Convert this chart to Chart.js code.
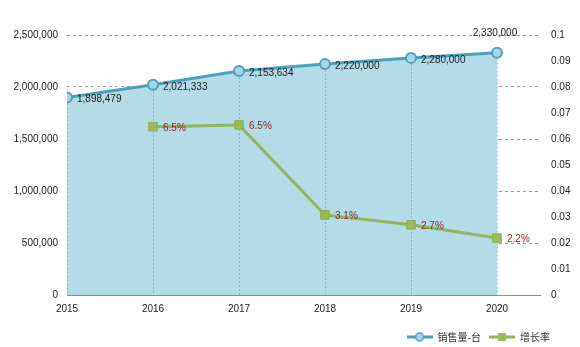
<!DOCTYPE html>
<html>
<head>
<meta charset="utf-8">
<script src="https://cdn.jsdelivr.net/npm/chart.js@4"></script>
<style>
  html, body { margin: 0; padding: 0; background: #fff; }
  #wrap { width: 580px; height: 347px; }
</style>
</head>
<body>
<div id="wrap"><canvas id="salesChart"></canvas></div>
<script>
// values
const years = [2015, 2016, 2017, 2018, 2019, 2020];
const sales = [1898479, 2021333, 2153634, 2220000, 2280000, 2330000];
const growthYears = [2016, 2017, 2018, 2019, 2020];
const growth = [0.0647, 0.0654, 0.0308, 0.0270, 0.0219];
const growthLabels = ['6.5%', '6.5%', '3.1%', '2.7%', '2.2%'];
const seriesNames = ['销售量-台', '增长率'];

const numFont = '"Liberation Sans", Arial, sans-serif';
const cjkFont = '"Noto Sans CJK SC", "Liberation Sans", sans-serif';

// little line + marker pictures for the legend
function legendMarker(lineColor, fillColor, edgeColor, shape) {
    const c = document.createElement('canvas');
    c.width = 26;
    c.height = 12;
    const g = c.getContext('2d');
    g.strokeStyle = lineColor;
    g.lineWidth = 3;
    g.beginPath();
    g.moveTo(0, 6);
    g.lineTo(26, 6);
    g.stroke();
    g.fillStyle = fillColor;
    g.strokeStyle = edgeColor;
    g.lineWidth = 1.5;
    if (shape === 'circle') {
        g.beginPath();
        g.arc(13, 6, 4, 0, Math.PI * 2);
        g.fill();
        g.stroke();
    } else {
        g.fillRect(9, 2, 8, 8);
    }
    return c;
}

const blueMarker = legendMarker('#4aa0bf', '#a9d6e5', '#4aa0bf', 'circle');
const greenMarker = legendMarker('#8eb65b', '#9bbb59', '#8aac4f', 'rect');

// dashed drop lines from the sales points down to the axis
const dropLines = {
    id: 'dropLines',
    afterDatasetDraw(chart, args) {
        if (args.index !== 0) return;
        const ctx = chart.ctx;
        const bottom = chart.chartArea.bottom;
        ctx.save();
        ctx.strokeStyle = 'rgba(70,150,185,0.55)';
        ctx.lineWidth = 1;
        ctx.setLineDash([2, 2]);
        args.meta.data.forEach(pt => {
            ctx.beginPath();
            ctx.moveTo(Math.round(pt.x) + 0.5, pt.y + 6);
            ctx.lineTo(Math.round(pt.x) + 0.5, bottom);
            ctx.stroke();
        });
        ctx.restore();
    }
};

// value labels next to the points
const pointLabels = {
    id: 'pointLabels',
    afterDatasetsDraw(chart) {
        const ctx = chart.ctx;
        ctx.save();
        ctx.font = '10px ' + numFont;
        ctx.textBaseline = 'middle';

        const salesMeta = chart.getDatasetMeta(0);
        ctx.fillStyle = '#1a1a1a';
        salesMeta.data.forEach((pt, i) => {
            const txt = sales[i].toLocaleString('en-US');
            if (i === sales.length - 1) {
                ctx.textAlign = 'center';
                ctx.fillText(txt, pt.x - 2, pt.y - 19);
            } else {
                ctx.textAlign = 'left';
                ctx.fillText(txt, pt.x + 10, pt.y + 2);
            }
        });

        const growthMeta = chart.getDatasetMeta(1);
        ctx.fillStyle = '#8b2323';
        ctx.textAlign = 'left';
        growthMeta.data.forEach((pt, i) => {
            ctx.fillText(growthLabels[i], pt.x + 10, pt.y + 1);
        });
        ctx.restore();
    }
};

// pull the legend in a little from the right edge
const legendShift = {
    id: 'legendShift',
    afterLayout(chart) {
        if (chart.legend) chart.legend.right = chart.chartArea.right + 18;
    }
};

const ctx = document.getElementById('salesChart').getContext('2d');
new Chart(ctx, {
    type: 'line',
    data: {
        datasets: [
            {
                label: seriesNames[0],
                data: years.map((yr, i) => ({ x: yr, y: sales[i] })),
                yAxisID: 'y',
                order: 2,
                fill: 'origin',
                backgroundColor: '#b3dbe8',
                borderColor: '#4aa0bf',
                borderWidth: 3,
                pointRadius: 5,
                pointBorderWidth: 2,
                pointBackgroundColor: '#a9d6e5',
                pointBorderColor: '#4aa0bf',
                tension: 0
            },
            {
                label: seriesNames[1],
                data: growthYears.map((yr, i) => ({ x: yr, y: growth[i] })),
                yAxisID: 'y1',
                order: 1,
                fill: false,
                borderColor: '#8eb65b',
                borderWidth: 3,
                pointStyle: 'rect',
                pointRadius: 6,
                pointBorderWidth: 1,
                pointBackgroundColor: '#9bbb59',
                pointBorderColor: '#8aac4f',
                tension: 0
            }
        ]
    },
    options: {
        responsive: true,
        maintainAspectRatio: false,
        animation: false,
        devicePixelRatio: 1,
        layout: {
            padding: { left: 0, right: 0, top: 35, bottom: -5 }
        },
        scales: {
            x: {
                type: 'linear',
                min: 2015,
                max: 2020.5,
                afterBuildTicks: scale => {
                    scale.ticks = scale.ticks.filter(t => Number.isInteger(t.value));
                },
                afterFit: scale => { scale.height = 29; },
                ticks: {
                    stepSize: 1,
                    includeBounds: false,
                    padding: 8,
                    color: '#222',
                    font: { size: 10, family: numFont },
                    callback: value => String(value)
                },
                grid: { display: false, drawTicks: false },
                border: { display: true, color: '#8c8c8c', width: 1 }
            },
            y: {
                position: 'left',
                min: 0,
                max: 2500000,
                afterFit: scale => { scale.width = 67; },
                ticks: {
                    stepSize: 500000,
                    padding: 9,
                    color: '#222',
                    font: { size: 10, family: numFont },
                    callback: value => value.toLocaleString('en-US')
                },
                grid: { color: '#9a9a9a', lineWidth: 1, drawTicks: false },
                border: { display: false, dash: [3, 3] }
            },
            y1: {
                position: 'right',
                min: 0,
                max: 0.1,
                afterFit: scale => { scale.width = 40; },
                ticks: {
                    stepSize: 0.01,
                    padding: 11,
                    color: '#222',
                    font: { size: 10, family: numFont },
                    callback: value => String(+value.toFixed(2))
                },
                grid: { drawOnChartArea: false, drawTicks: false },
                border: { display: false }
            }
        },
        plugins: {
            tooltip: { enabled: false },
            legend: {
                position: 'bottom',
                align: 'end',
                labels: {
                    usePointStyle: true,
                    pointStyleWidth: 26,
                    padding: 8,
                    color: '#333',
                    font: { size: 10, family: cjkFont },
                    sort: (a, b) => a.datasetIndex - b.datasetIndex,
                    generateLabels: chart => {
                        const items = Chart.defaults.plugins.legend.labels.generateLabels(chart);
                        items.forEach(item => {
                            item.pointStyle = item.datasetIndex === 0 ? blueMarker : greenMarker;
                        });
                        return items;
                    }
                }
            }
        }
    },
    plugins: [dropLines, pointLabels, legendShift]
});
</script>
</body>
</html>
